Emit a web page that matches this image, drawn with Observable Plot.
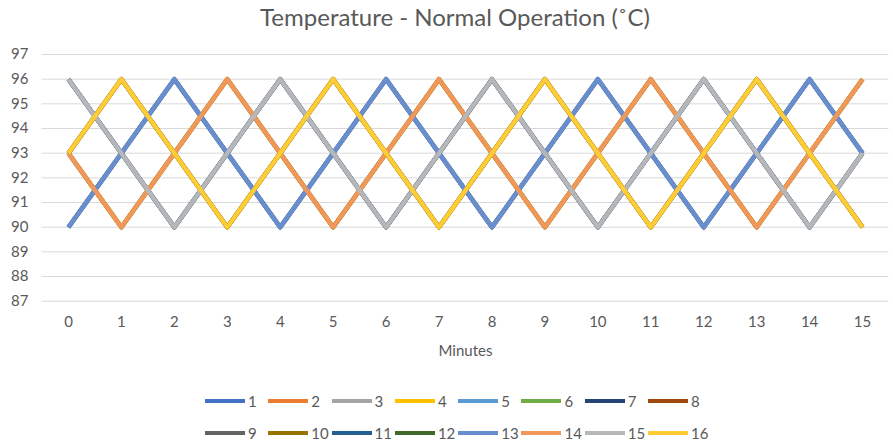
<!DOCTYPE html>
<html>
<head>
<meta charset="utf-8">
<script src="https://cdn.jsdelivr.net/npm/d3@7"></script>
<script src="https://cdn.jsdelivr.net/npm/@observablehq/plot@0.6"></script>
<style>
  body { margin: 0; background: #fff; font-family: Lato, "Open Sans", sans-serif; color: #595959; }
  #title { height: 36px; line-height: 33px; font-size: 24px; text-align: center; padding-left: 17px; white-space: nowrap; }
  #chart svg { display: block; }
  #legend { display: grid; grid-template-columns: repeat(8, 63.3px); margin-left: 205px; margin-top: 18.7px; }
  .item { display: flex; align-items: center; height: 32px; font-size: 15px; }
  .sw { width: 40px; height: 4px; margin-right: 3px; }
</style>
</head>
<body>
<div id="title">Temperature - Normal Operation (˚C)</div>
<div id="chart"></div>
<div id="legend"></div>
<script>
// Sample times (minutes) and temperature gridlines
const minutes = [0, 1, 2, 3, 4, 5, 6, 7, 8, 9, 10, 11, 12, 13, 14, 15];
const yTicks = [87, 88, 89, 90, 91, 92, 93, 94, 95, 96, 97];

// Temperature readings (°C) for each of the 16 sensors
const s1  = [90, 93, 96, 93, 90, 93, 96, 93, 90, 93, 96, 93, 90, 93, 96, 93];
const s2  = [93, 90, 93, 96, 93, 90, 93, 96, 93, 90, 93, 96, 93, 90, 93, 96];
const s3  = [96, 93, 90, 93, 96, 93, 90, 93, 96, 93, 90, 93, 96, 93, 90, 93];
const s4  = [93, 96, 93, 90, 93, 96, 93, 90, 93, 96, 93, 90, 93, 96, 93, 90];
const s5  = [90, 93, 96, 93, 90, 93, 96, 93, 90, 93, 96, 93, 90, 93, 96, 93];
const s6  = [93, 90, 93, 96, 93, 90, 93, 96, 93, 90, 93, 96, 93, 90, 93, 96];
const s7  = [96, 93, 90, 93, 96, 93, 90, 93, 96, 93, 90, 93, 96, 93, 90, 93];
const s8  = [93, 96, 93, 90, 93, 96, 93, 90, 93, 96, 93, 90, 93, 96, 93, 90];
const s9  = [90, 93, 96, 93, 90, 93, 96, 93, 90, 93, 96, 93, 90, 93, 96, 93];
const s10 = [93, 90, 93, 96, 93, 90, 93, 96, 93, 90, 93, 96, 93, 90, 93, 96];
const s11 = [96, 93, 90, 93, 96, 93, 90, 93, 96, 93, 90, 93, 96, 93, 90, 93];
const s12 = [93, 96, 93, 90, 93, 96, 93, 90, 93, 96, 93, 90, 93, 96, 93, 90];
const s13 = [90, 93, 96, 93, 90, 93, 96, 93, 90, 93, 96, 93, 90, 93, 96, 93];
const s14 = [93, 90, 93, 96, 93, 90, 93, 96, 93, 90, 93, 96, 93, 90, 93, 96];
const s15 = [96, 93, 90, 93, 96, 93, 90, 93, 96, 93, 90, 93, 96, 93, 90, 93];
const s16 = [93, 96, 93, 90, 93, 96, 93, 90, 93, 96, 93, 90, 93, 96, 93, 90];

const seriesValues = [s1, s2, s3, s4, s5, s6, s7, s8, s9, s10, s11, s12, s13, s14, s15, s16];
const seriesNames = ["1", "2", "3", "4", "5", "6", "7", "8", "9", "10", "11", "12", "13", "14", "15", "16"];
const seriesColors = [
  "#4472C4", "#ED7D31", "#A5A5A5", "#FFC000", "#5B9BD5", "#70AD47", "#264478", "#9E480E",
  "#636363", "#997300", "#255E91", "#43682B", "#698ED0", "#F1975A", "#B7B7B7", "#FFCD33"
];

// Long-format table: one row per sensor per minute
const rows = seriesValues.flatMap((vals, i) =>
  vals.map((t, j) => ({ minute: minutes[j], temp: t, series: seriesNames[i] }))
);

const chart = Plot.plot({
  width: 893,
  height: 330,
  marginLeft: 41.5,
  marginRight: 4.5,
  marginTop: 18,
  marginBottom: 65.3,
  x: { domain: [-0.5, 15.5] },
  y: { domain: [87, 97] },
  color: { domain: seriesNames, range: seriesColors },
  style: { fontFamily: "Lato, 'Open Sans', sans-serif", fontSize: "15px", color: "#595959", background: "#fff" },
  marks: [
    Plot.ruleY(yTicks, { stroke: "#d9d9d9", strokeWidth: 1 }),
    Plot.axisY(yTicks, { tickSize: 0, tickPadding: 13.5, label: null, fontSize: 15 }),
    Plot.axisX(minutes, { tickSize: 0, tickPadding: 15.5, label: null, fontSize: 15 }),
    Plot.line(rows, {
      x: "minute", y: "temp", z: "series", stroke: "series",
      strokeWidth: 4.4, strokeLinejoin: "round", strokeLinecap: "butt"
    }),
    Plot.text(["Minutes"], { frameAnchor: "bottom", dy: 55, fontSize: 15, fill: "#595959" })
  ]
});
document.getElementById("chart").appendChild(chart);

// Legend: two rows of eight swatches
const legend = document.getElementById("legend");
seriesNames.forEach((name, i) => {
  const item = document.createElement("div");
  item.className = "item";
  const sw = document.createElement("span");
  sw.className = "sw";
  sw.style.background = seriesColors[i];
  const lab = document.createElement("span");
  lab.textContent = name;
  item.appendChild(sw);
  item.appendChild(lab);
  legend.appendChild(item);
});
</script>
</body>
</html>
